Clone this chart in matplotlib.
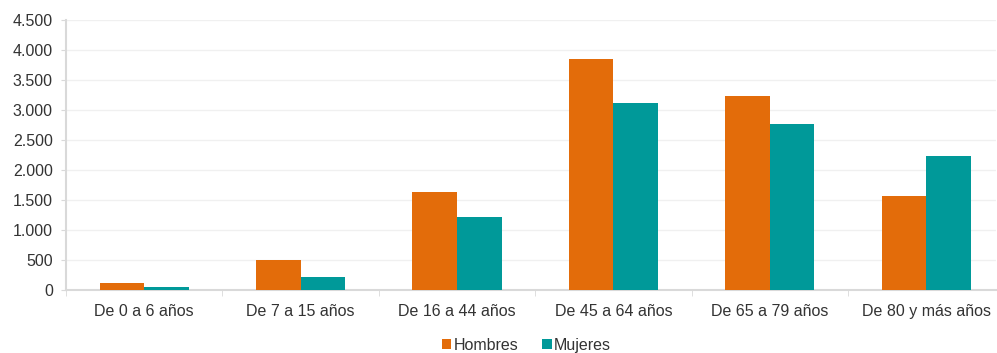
import numpy as np
import matplotlib
matplotlib.use('Agg')
import matplotlib.pyplot as plt
from matplotlib.ticker import FuncFormatter

# Data
categories = ['De 0 a 6 años', 'De 7 a 15 años', 'De 16 a 44 años',
              'De 45 a 64 años', 'De 65 a 79 años', 'De 80 y más años']
hombres = [120, 500, 1630, 3850, 3235, 1560]
mujeres = [50, 210, 1220, 3125, 2770, 2235]
yticks = [0, 500, 1000, 1500, 2000, 2500, 3000, 3500, 4000, 4500]

plt.rcParams['font.family'] = ['Liberation Sans', 'DejaVu Sans']

fig = plt.figure(figsize=(9.97, 3.53), dpi=100)
ax = fig.add_axes([66 / 997, 63 / 353, 930 / 997, 270 / 353])

x = np.arange(len(categories))
w = 0.285
ax.bar(x - w / 2, hombres, w, color='#E36C0A', label='Hombres', zorder=3)
ax.bar(x + w / 2, mujeres, w, color='#009999', label='Mujeres', zorder=3)

ax.set_xlim(-0.5, len(categories) - 0.554)
ax.set_ylim(0, 4500)
ax.set_yticks(yticks)
ax.yaxis.set_major_formatter(FuncFormatter(lambda v, p: f'{int(v):,}'.replace(',', '.')))
ax.set_xticks(x)
ax.set_xticklabels(categories)
ax.set_xticks(np.arange(-0.5, len(categories) - 1), minor=True)

ax.grid(axis='y', color='#f0f0f0', linewidth=1, zorder=0)
for s in ['top', 'right']:
    ax.spines[s].set_visible(False)
for s in ['left', 'bottom']:
    ax.spines[s].set_color('#d9d9d9')
    ax.spines[s].set_linewidth(1.5)

ax.tick_params(axis='y', length=3.5, color='#d9d9d9', labelsize=11.5, labelcolor='#333333', pad=6)
ax.tick_params(axis='x', which='major', length=0, labelsize=11.5, labelcolor='#333333', pad=10)
ax.tick_params(axis='x', which='minor', length=4, color='#d9d9d9')

ax.legend(loc='center', bbox_to_anchor=(0.495, -0.204), ncol=2, frameon=False,
          fontsize=11.5, handlelength=0.6, handleheight=0.6, handletextpad=0.15,
          columnspacing=1.5, labelcolor='#333333', borderpad=0)

fig.savefig('out.png', dpi=100)
